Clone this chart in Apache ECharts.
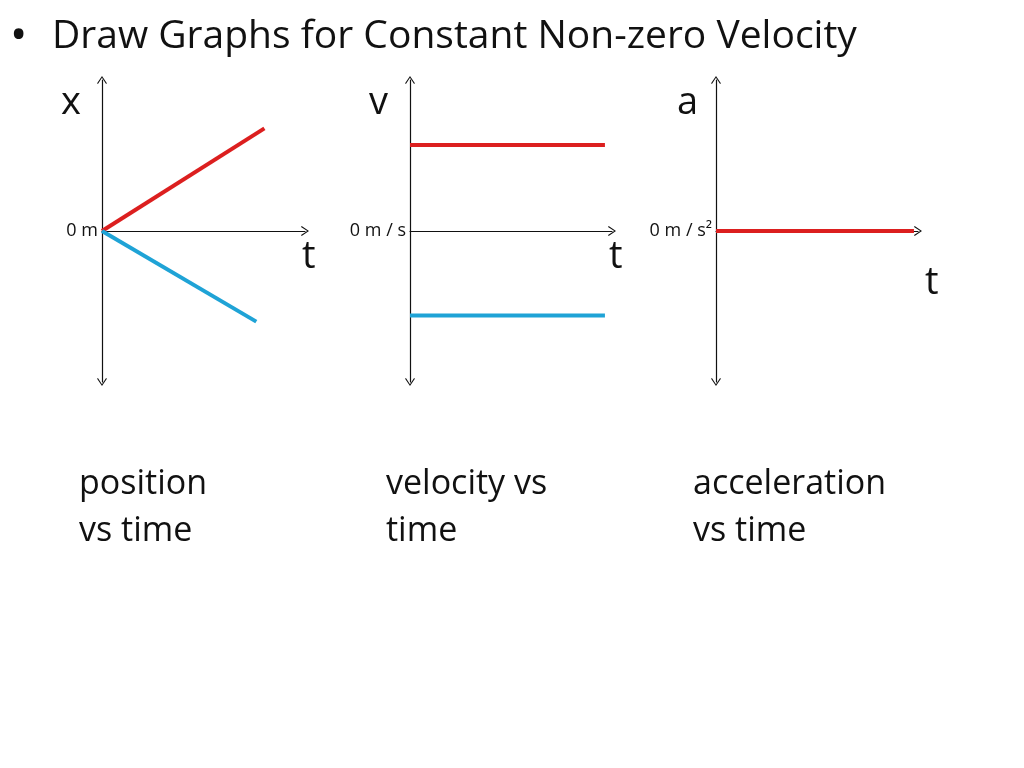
<!DOCTYPE html>
<html><head><meta charset="utf-8">
<script src="https://cdn.jsdelivr.net/npm/echarts@6/dist/echarts.min.js"></script>
<style>html,body{margin:0;padding:0;background:#fff}#c{width:1024px;height:768px}</style>
</head><body><div id="c"></div>
<script>
const titleText = 'Draw Graphs for Constant Non-zero Velocity';
const axisNames = ['x', 'v', 'a'];
const timeName = 't';
const zeroLabels = ['0 m', '0 m / s', '0 m / s\u00B2'];
const captions = ['position\nvs time', 'velocity vs\ntime', 'acceleration\nvs time'];
// [t, value] pairs (axis range t 0..10, value -1..1)
const posRed = [[0, 0], [8, 0.68]];
const posBlue = [[0, 0], [7.6, -0.6]];
const velRed = [[0, 0.57], [9.65, 0.57]];
const velBlue = [[0, -0.56], [9.65, -0.56]];
const accRed = [[0, 0], [9.8, 0]];

const RED = '#dc1f1f', BLUE = '#1fa3d6', FONT = '"Open Sans"';
const chev = 'path://M0 9 L6 0 L12 9 L11 9.8 L6 2.2 L1 9.8 Z';
const lefts = [102, 410, 716];
const widths = [203, 202, 202];

const grids = lefts.map((l, i) => ({left: l, top: 80, width: widths[i], height: 302}));
const xAxes = grids.map((g, i) => ({
  type: 'value', gridIndex: i, min: 0, max: 10,
  axisLine: {show: true, onZero: true, symbol: ['none', chev], symbolSize: [13, 8],
    lineStyle: {color: '#111', width: 1.2}},
  axisTick: {show: false}, axisLabel: {show: false}, splitLine: {show: false}
}));
const yAxes = grids.map((g, i) => ({
  type: 'value', gridIndex: i, min: -1, max: 1, interval: 1,
  axisLine: {show: true, symbol: [chev, chev], symbolSize: [13, 8],
    lineStyle: {color: '#111', width: 1.2}},
  axisTick: {show: false}, splitLine: {show: false},
  axisLabel: {show: true, margin: 4, color: '#111', fontFamily: 'Open Sans', fontSize: 18,
    formatter: v => v === 0 ? zeroLabels[i] : ''}
}));
const line = (data, color, idx) => ({
  type: 'line', xAxisIndex: idx, yAxisIndex: idx, data: data, symbol: 'none',
  lineStyle: {color: color, width: 4}, z: 3
});
const series = [
  line(posRed, RED, 0), line(posBlue, BLUE, 0),
  line(velRed, RED, 1), line(velBlue, BLUE, 1),
  line(accRed, RED, 2)
];
const bigText = (x, y, t, size) => ({type: 'text', left: x, top: y,
  style: {text: t, font: size + 'px ' + FONT, fill: '#111'}});
const capText = (x, t) => ({type: 'text', left: x, top: 461,
  style: {text: t, font: '34px ' + FONT, fill: '#111', lineHeight: 47}});
const graphic = [
  bigText(10, 14, '\u2022', 46),
  bigText(61, 84, axisNames[0], 38), bigText(369, 84, axisNames[1], 38), bigText(677, 84, axisNames[2], 38),
  bigText(302, 238, timeName, 38), bigText(609, 238, timeName, 38), bigText(925, 264, timeName, 38),
  capText(79, captions[0]), capText(386, captions[1]), capText(693, captions[2])
];
const chart = echarts.init(document.getElementById('c'), null, {renderer: 'canvas'});
chart.setOption({
  backgroundColor: '#fff', animation: false,
  title: {text: titleText, left: 47, top: 12, textStyle: {fontFamily: 'Open Sans', fontSize: 39, fontWeight: 'normal', color: '#111'}},
  grid: grids, xAxis: xAxes, yAxis: yAxes, series: series, graphic: graphic
});
</script></body></html>
